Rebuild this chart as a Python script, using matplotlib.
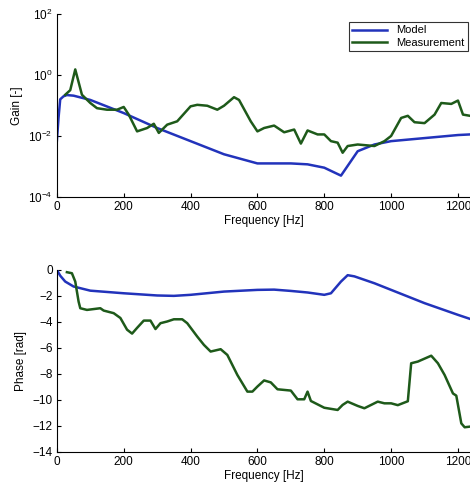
import matplotlib
matplotlib.use("Agg")
import matplotlib.pyplot as plt
import numpy as np
from matplotlib.ticker import LogLocator, NullLocator, FixedLocator

BLUE = "#2233bb"
GREEN = "#1e5a1a"

# ── Gain data (log10 values) ───────────────────────────────────────
model_gain_f = [0, 5, 10, 20, 30, 50, 100, 200, 300, 400, 500, 600, 700,
                750, 800, 850, 900, 950, 1000, 1100, 1200, 1236]
model_gain_log = [-2.16, -1.4, -0.8, -0.7, -0.66, -0.68, -0.82, -1.25, -1.74,
                  -2.17, -2.6, -2.9, -2.9, -2.93, -3.04, -3.3, -2.5, -2.28,
                  -2.17, -2.07, -1.97, -1.95]

meas_gain_f = [25, 40, 55, 75, 100, 120, 150, 180, 200, 215, 240, 270, 290,
               305, 330, 360, 400, 420, 450, 480, 500, 530, 545, 580, 600,
               620, 650, 680, 710, 730, 750, 780, 800, 820, 840, 855, 870,
               900, 920, 950, 980, 1000, 1030, 1050, 1070, 1100, 1130, 1150,
               1180, 1200, 1215, 1236]
meas_gain_log = [-0.65, -0.5, 0.18, -0.65, -0.92, -1.09, -1.14, -1.14, -1.05,
                 -1.3, -1.85, -1.74, -1.6, -1.9, -1.63, -1.52, -1.03, -0.98,
                 -1.01, -1.14, -1.01, -0.73, -0.82, -1.52, -1.85, -1.74,
                 -1.66, -1.88, -1.79, -2.25, -1.82, -1.95, -1.95, -2.17,
                 -2.22, -2.55, -2.33, -2.28, -2.3, -2.33, -2.17, -2.0, -1.41,
                 -1.34, -1.55, -1.58, -1.3, -0.92, -0.95, -0.84, -1.3, -1.34]

# ── Phase data [rad] ───────────────────────────────────────────────
model_phase_f = [0, 10, 25, 50, 100, 200, 300, 350, 400, 500, 600, 650, 700,
                 750, 800, 820, 850, 870, 890, 950, 1000, 1100, 1200, 1236]
model_phase = [0, -0.45, -0.9, -1.28, -1.6, -1.8, -1.97, -2.0, -1.92, -1.67,
               -1.54, -1.52, -1.62, -1.74, -1.92, -1.8, -0.9, -0.41, -0.5,
               -1.03, -1.54, -2.56, -3.46, -3.77]

meas_phase_f = [30, 45, 55, 65, 70, 90, 130, 140, 170, 190, 210, 225, 240,
                260, 280, 295, 310, 330, 350, 375, 390, 420, 440, 460, 490,
                510, 540, 570, 585, 600, 620, 640, 660, 700, 720, 740, 750,
                760, 800, 840, 855, 870, 900, 920, 960, 980, 1000, 1020, 1050,
                1060, 1080, 1120, 1140, 1160, 1185, 1195, 1210, 1220, 1236]
meas_phase = [-0.18, -0.26, -0.9, -2.44, -2.95, -3.08, -2.95, -3.13, -3.33,
              -3.7, -4.6, -4.9, -4.46, -3.9, -3.9, -4.55, -4.1, -3.97, -3.8,
              -3.8, -4.1, -5.13, -5.77, -6.28, -6.1, -6.54, -8.08, -9.36,
              -9.36, -8.97, -8.5, -8.65, -9.18, -9.28, -9.95, -9.95, -9.36,
              -10.08, -10.6, -10.77, -10.38, -10.13, -10.46, -10.64, -10.13,
              -10.26, -10.26, -10.4, -10.1, -7.18, -7.05, -6.6, -7.18, -8.08,
              -9.5, -9.67, -11.8, -12.1, -12.05]

XMAX = 1236

plt.rcParams["font.family"] = ["Liberation Sans", "DejaVu Sans"]
plt.rcParams["font.size"] = 8.5

fig = plt.figure(figsize=(4.7, 4.87), dpi=100)
ax1 = fig.add_axes([0.121, 0.5955, 0.879, 0.376])
ax2 = fig.add_axes([0.121, 0.0719, 0.879, 0.374])

ax1.plot(model_gain_f, 10 ** np.array(model_gain_log), color=BLUE, lw=1.8,
         label="Model")
ax1.plot(meas_gain_f, 10 ** np.array(meas_gain_log), color=GREEN, lw=1.8,
         label="Measurement")
ax1.set_yscale("log")
ax1.set_ylim(1e-4, 1e2)
ax1.yaxis.set_major_locator(FixedLocator([1e-4, 1e-2, 1e0, 1e2]))
ax1.yaxis.set_minor_locator(NullLocator())
ax1.set_ylabel("Gain [-]")
leg = ax1.legend(loc="upper right", bbox_to_anchor=(0.995, 0.955),
                 fancybox=False, edgecolor="black", fontsize=8,
                 borderpad=0.3, handlelength=3.2, labelspacing=0.2,
                 borderaxespad=0.0)
leg.get_frame().set_linewidth(0.8)

ax2.plot(model_phase_f, model_phase, color=BLUE, lw=1.8)
ax2.plot(meas_phase_f, meas_phase, color=GREEN, lw=1.8)
ax2.set_ylim(-14, 0)
ax2.set_yticks(range(-14, 1, 2))
ax2.set_ylabel("Phase [rad]")

for ax in (ax1, ax2):
    ax.set_xlim(0, XMAX)
    ax.set_xticks([0, 200, 400, 600, 800, 1000, 1200])
    ax.set_xlabel("Frequency [Hz]", labelpad=1)
    for sp in ("top", "right"):
        ax.spines[sp].set_visible(False)
    ax.tick_params(direction="in", length=3, pad=3)

fig.savefig("out.png", dpi=100)
